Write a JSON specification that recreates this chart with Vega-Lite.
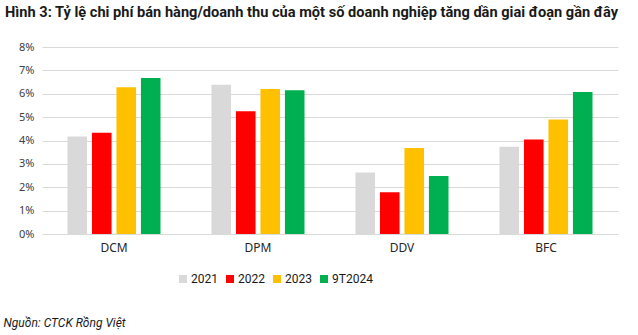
{
  "$schema": "https://vega.github.io/schema/vega-lite/v6.json",
  "width": 576,
  "height": 187,
  "autosize": {"type": "none"},
  "padding": {"left": 42, "top": 47, "right": 20, "bottom": 101},
  "background": "white",
  "title": {
    "text": "Hình 3: Tỷ lệ chi phí bán hàng/doanh thu của một số doanh nghiệp tăng dần giai đoạn gần đây",
    "anchor": "start",
    "frame": "group",
    "dx": -37,
    "offset": 21,
    "font": "Roboto",
    "fontSize": 14.6,
    "fontWeight": "bold",
    "color": "#1a1a1a"
  },
  "data": {
    "values": [
      {"company": "DCM", "period": "2021", "value": 0.0417},
      {"company": "DCM", "period": "2022", "value": 0.0433},
      {"company": "DCM", "period": "2023", "value": 0.0628},
      {"company": "DCM", "period": "9T2024", "value": 0.0667},
      {"company": "DPM", "period": "2021", "value": 0.0638},
      {"company": "DPM", "period": "2022", "value": 0.0525},
      {"company": "DPM", "period": "2023", "value": 0.062},
      {"company": "DPM", "period": "9T2024", "value": 0.0615},
      {"company": "DDV", "period": "2021", "value": 0.0263},
      {"company": "DDV", "period": "2022", "value": 0.0179},
      {"company": "DDV", "period": "2023", "value": 0.0368},
      {"company": "DDV", "period": "9T2024", "value": 0.0248},
      {"company": "BFC", "period": "2021", "value": 0.0373},
      {"company": "BFC", "period": "2022", "value": 0.0404},
      {"company": "BFC", "period": "2023", "value": 0.049},
      {"company": "BFC", "period": "9T2024", "value": 0.0607}
    ]
  },
  "mark": {"type": "bar"},
  "encoding": {
    "x": {
      "field": "company",
      "type": "nominal",
      "sort": ["DCM", "DPM", "DDV", "BFC"],
      "scale": {"paddingInner": 0.32, "paddingOuter": 0.16},
      "axis": {
        "labelAngle": 0,
        "labelFont": "Noto Sans",
        "labelFontSize": 12,
        "labelColor": "#262626",
        "labelPadding": 8,
        "domain": false,
        "ticks": false,
        "title": "Nguồn: CTCK Rồng Việt",
        "titleFont": "Roboto",
        "titleFontStyle": "italic",
        "titleFontWeight": "normal",
        "titleFontSize": 12,
        "titleColor": "#1a1a1a",
        "titleAnchor": "start",
        "titleAlign": "left",
        "titleX": -39,
        "titleY": 88,
        "titleBaseline": "middle"
      }
    },
    "xOffset": {
      "field": "period",
      "type": "nominal",
      "sort": ["2021", "2022", "2023", "9T2024"],
      "scale": {"paddingInner": 0.2, "paddingOuter": 0.1}
    },
    "y": {
      "field": "value",
      "type": "quantitative",
      "scale": {"domain": [0, 0.08], "nice": false},
      "axis": {
        "values": [0, 0.01, 0.02, 0.03, 0.04, 0.05, 0.06, 0.07, 0.08],
        "format": ".0%",
        "title": null,
        "domain": false,
        "ticks": false,
        "labelFont": "Noto Sans",
        "labelFontSize": 11,
        "labelColor": "#404040",
        "labelPadding": 8,
        "gridColor": "#d9d9d9",
        "gridWidth": 1
      }
    },
    "color": {
      "field": "period",
      "type": "nominal",
      "sort": ["2021", "2022", "2023", "9T2024"],
      "scale": {
        "domain": ["2021", "2022", "2023", "9T2024"],
        "range": ["#d9d9d9", "#ff0000", "#ffc000", "#00b050"]
      },
      "legend": {
        "title": null,
        "orient": "none",
        "direction": "horizontal",
        "legendX": 135,
        "legendY": 226,
        "symbolType": "square",
        "symbolSize": 64,
        "symbolStrokeWidth": 0,
        "labelFont": "Roboto",
        "labelFontSize": 12,
        "labelColor": "#1a1a1a",
        "labelOffset": 2,
        "columnPadding": 6
      }
    }
  },
  "config": {
    "view": {"stroke": null}
  }
}
